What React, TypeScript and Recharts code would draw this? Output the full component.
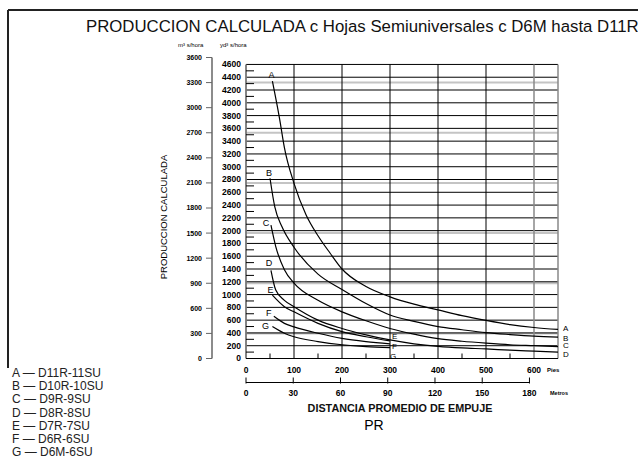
import { LineChart, Line, XAxis, YAxis } from "recharts";

// tick values
const FEET_TICKS = [0, 50, 100, 150, 200, 250, 300, 350, 400, 450, 500, 550, 600];
const METRO_TICKS = [0, 30, 60, 90, 120, 150, 180];
const YD_TICKS = [
  0, 100, 200, 300, 400, 500, 600, 700, 800, 900, 1000, 1100, 1200, 1300, 1400, 1500,
  1600, 1700, 1800, 1900, 2000, 2100, 2200, 2300, 2400, 2500, 2600, 2700, 2800, 2900,
  3000, 3100, 3200, 3300, 3400, 3500, 3600, 3700, 3800, 3900, 4000, 4100, 4200, 4300,
  4400, 4500, 4600,
];
const YD_GRID = [
  200, 400, 600, 800, 1000, 1200, 1400, 1600, 1800, 2000, 2200, 2400, 2600, 2800, 3000,
  3200, 3400, 3600, 3800, 4000, 4200, 4400, 4600,
];
const M3_TICKS = [0, 300, 600, 900, 1200, 1500, 1800, 2100, 2400, 2700, 3000, 3300, 3600];
const M3_GRAY = [300, 900, 1500, 2100, 2700, 3300];
const FT_GRID = [100, 200, 300, 400, 500];
const FT_GRAY = [600, 650];

// production curves (x = pies, y = yd3/hora)
const curveA = [
  { x: 55, y: 4340 }, { x: 70, y: 3750 }, { x: 80, y: 3300 }, { x: 100, y: 2740 },
  { x: 125, y: 2250 }, { x: 150, y: 1920 }, { x: 175, y: 1650 }, { x: 200, y: 1400 },
  { x: 250, y: 1125 }, { x: 300, y: 965 }, { x: 350, y: 850 }, { x: 400, y: 760 },
  { x: 450, y: 670 }, { x: 500, y: 595 }, { x: 550, y: 530 }, { x: 600, y: 485 },
  { x: 650, y: 455 },
];
const curveB = [
  { x: 50, y: 2820 }, { x: 60, y: 2370 }, { x: 75, y: 2060 }, { x: 100, y: 1740 },
  { x: 150, y: 1320 }, { x: 200, y: 1080 }, { x: 250, y: 860 }, { x: 300, y: 680 },
  { x: 350, y: 580 }, { x: 400, y: 500 }, { x: 450, y: 450 }, { x: 500, y: 405 },
  { x: 550, y: 375 }, { x: 600, y: 350 }, { x: 650, y: 335 },
];
const curveC = [
  { x: 52, y: 2085 }, { x: 62, y: 1750 }, { x: 80, y: 1390 }, { x: 100, y: 1180 },
  { x: 150, y: 910 }, { x: 200, y: 730 }, { x: 250, y: 590 }, { x: 300, y: 470 },
  { x: 350, y: 380 }, { x: 400, y: 310 }, { x: 450, y: 270 }, { x: 500, y: 240 },
  { x: 550, y: 215 }, { x: 600, y: 200 }, { x: 650, y: 185 },
];
const curveD = [
  { x: 52, y: 1380 }, { x: 62, y: 1070 }, { x: 80, y: 910 }, { x: 100, y: 810 },
  { x: 150, y: 600 }, { x: 200, y: 470 }, { x: 250, y: 370 }, { x: 300, y: 290 },
  { x: 350, y: 230 }, { x: 400, y: 190 }, { x: 450, y: 165 }, { x: 500, y: 150 },
  { x: 550, y: 130 }, { x: 600, y: 115 }, { x: 650, y: 100 },
];
const curveE = [
  { x: 55, y: 990 }, { x: 80, y: 810 }, { x: 100, y: 730 }, { x: 150, y: 550 },
  { x: 200, y: 420 }, { x: 250, y: 340 }, { x: 300, y: 275 },
];
const curveF = [
  { x: 58, y: 660 }, { x: 80, y: 550 }, { x: 100, y: 495 }, { x: 150, y: 395 },
  { x: 200, y: 315 }, { x: 250, y: 265 }, { x: 300, y: 230 },
];
const curveG = [
  { x: 55, y: 500 }, { x: 80, y: 395 }, { x: 100, y: 340 }, { x: 150, y: 265 },
  { x: 200, y: 215 }, { x: 250, y: 185 }, { x: 300, y: 170 },
];

const LEGEND = [
  "A — D11R-11SU",
  "B — D10R-10SU",
  "C — D9R-9SU",
  "D — D8R-8SU",
  "E — D7R-7SU",
  "F — D6R-6SU",
  "G — D6M-6SU",
];

const series = [
  { key: "A", data: curveA, sdx: -1, sdy: -6, edx: 5, edy: -1 },
  { key: "B", data: curveB, sdx: -1, sdy: -5, edx: 5, edy: 1 },
  { key: "C", data: curveC, sdx: -5, sdy: -2, edx: 5, edy: -1 },
  { key: "D", data: curveD, sdx: -2, sdy: -7, edx: 5, edy: 2 },
  { key: "E", data: curveE, sdx: -2, sdy: -5, edx: 2, edy: -5 },
  { key: "F", data: curveF, sdx: -5, sdy: -3, edx: 2, edy: 2 },
  { key: "G", data: curveG, sdx: -7, sdy: -1, edx: 0, edy: 9 },
];

// grid built from the tick arrays
const hGrid = YD_GRID.map((v) => [{ x: 0, y: v }, { x: 650, y: v }]);
const vGrid = FT_GRID.map((v) => [{ x: v, y: 0 }, { x: v, y: 4600 }]);
const vGray = FT_GRAY.map((v) => [{ x: v, y: 0 }, { x: v, y: 4600 }]);
const m3Gray = M3_GRAY.map((v) => [{ x: 0, y: v }, { x: 650, y: v }]);
const leftEdge = [{ x: 0, y: 0 }, { x: 0, y: 4600 }];
const metroSpan = [{ x: 0, y: 0 }, { x: 180, y: 0 }];

const W = 638;
const H = 460;
const MARGIN = { top: 57.5, right: 80, bottom: 47.5, left: 172 };
const PLOT_W = W - MARGIN.right - 246;
const FT_MAX = 650;
const M_MAX = FT_MAX * 0.3048;
const YD_MAX = 3600 * 1.30795;
const FONT = "'Liberation Sans', Arial, sans-serif";

// axis ids: "a" sits next to the plot, "b" outside it
const YD = "a";
const M3 = "b";

const FtTick = (p: any) => {
  const v = p.payload.value;
  if (v % 100 !== 0) {
    return <line x1={p.x} x2={p.x} y1={p.y - 5} y2={p.y} stroke="#000" strokeWidth={1} />;
  }
  return (
    <text x={p.x} y={p.y + 14} textAnchor="middle" fontSize={8.5} fontWeight="bold" fontFamily={FONT} fill="#000">
      {v}
    </text>
  );
};

const MetroTick = (p: any) => {
  const step = (30 / M_MAX) * PLOT_W;
  return (
    <g>
      {p.index > 0 && <line x1={p.x - step} x2={p.x} y1={p.y} y2={p.y} stroke="#000" strokeWidth={1} />}
      <line x1={p.x} x2={p.x} y1={p.y - 5} y2={p.y + 1} stroke="#000" strokeWidth={1} />
      <text x={p.x} y={p.y + 13} textAnchor="middle" fontSize={8.5} fontWeight="bold" fontFamily={FONT} fill="#000">
        {p.payload.value}
      </text>
    </g>
  );
};

const YdTick = (p: any) => {
  const v = p.payload.value;
  if (v % 200 !== 0) {
    return <line x1={p.x + 5} x2={p.x + 13} y1={p.y} y2={p.y} stroke="#000" strokeWidth={1} />;
  }
  return (
    <text x={p.x} y={p.y} dy="0.35em" textAnchor="end" fontSize={8.5} fontWeight="bold" fontFamily={FONT} fill="#000">
      {v}
    </text>
  );
};

const M3Tick = (p: any) => (
  <text x={p.x} y={p.y} dy="0.35em" textAnchor="end" fontSize={7} fontWeight="bold" fontFamily={FONT} fill="#000">
    {p.payload.value}
  </text>
);

const makeLabel = (s: any) => (p: any) => {
  const last = s.data.length - 1;
  if (p.index !== 0 && p.index !== last) return <g key={p.index} />;
  const start = p.index === 0;
  return (
    <text
      key={p.index}
      x={p.x + (start ? s.sdx : s.edx)}
      y={p.y + (start ? s.sdy : s.edy)}
      dy="0.35em"
      textAnchor={start ? "middle" : "start"}
      fontSize={start ? 9 : 8}
      fontFamily={FONT}
      fill="#000"
    >
      {s.key}
    </text>
  );
};

const gridLine = (key: string, data: any[], stroke: string, width: number, yAxisId = YD, xAxisId = "ft") => (
  <Line
    key={key}
    xAxisId={xAxisId}
    yAxisId={yAxisId}
    data={data}
    dataKey="y"
    type="linear"
    stroke={stroke}
    strokeWidth={width}
    dot={false}
    activeDot={false}
    isAnimationActive={false}
  />
);

export default function App() {
  return (
    <div style={{ position: "absolute", left: 0, top: 0, width: W, height: H, background: "#fff", overflow: "hidden" }}>
      <LineChart width={W} height={H} margin={MARGIN}>
        <XAxis
          xAxisId="ft"
          type="number"
          dataKey="x"
          domain={[0, FT_MAX]}
          ticks={FEET_TICKS}
          interval={0}
          height={24}
          tickSize={0}
          tickMargin={0}
          axisLine={{ stroke: "#000", strokeWidth: 1.2 }}
          tick={FtTick}
        />
        <XAxis
          xAxisId="m"
          type="number"
          dataKey="x"
          domain={[0, M_MAX]}
          ticks={METRO_TICKS}
          interval={0}
          height={30}
          tickSize={0}
          tickMargin={0}
          axisLine={false}
          tick={MetroTick}
        />
        <YAxis
          yAxisId={YD}
          type="number"
          domain={[0, YD_MAX]}
          ticks={YD_TICKS}
          interval={0}
          width={34}
          tickSize={0}
          tickMargin={5}
          axisLine={false}
          tick={YdTick}
        />
        <YAxis
          yAxisId={M3}
          type="number"
          domain={[0, 3600]}
          ticks={M3_TICKS}
          interval={0}
          width={40}
          tickSize={6}
          tickMargin={4}
          axisLine={{ stroke: "#666", strokeWidth: 1.5 }}
          tickLine={{ stroke: "#666", strokeWidth: 1 }}
          tick={M3Tick}
        />
        {m3Gray.map((d, i) => gridLine("g" + i, d, "#c4c4c4", 2, M3))}
        {hGrid.map((d, i) => gridLine("h" + i, d, "#000", 1))}
        {vGrid.map((d, i) => gridLine("v" + i, d, "#000", 1))}
        {vGray.map((d, i) => gridLine("vg" + i, d, "#888", 1.5))}
        {gridLine("left", leftEdge, "#777", 1.8)}
        {gridLine("metro", metroSpan, "none", 0, YD, "m")}
        {series.map((s) => (
          <Line
            key={s.key}
            xAxisId="ft"
            yAxisId={YD}
            data={s.data}
            dataKey="y"
            type="monotone"
            stroke="#000"
            strokeWidth={1.2}
            dot={false}
            isAnimationActive={false}
            label={makeLabel(s)}
          />
        ))}
      </LineChart>
      <svg width={W} height={H} style={{ position: "absolute", left: 0, top: 0, pointerEvents: "none" }} fontFamily={FONT}>
        <line x1={8} x2={W} y1={10} y2={10} stroke="#222" strokeWidth={2} />
        <line x1={8} x2={8} y1={10} y2={368} stroke="#222" strokeWidth={2} />
        <text x={86} y={32} fontSize={16.8} fill="#111">
          PRODUCCION CALCULADA c Hojas Semiuniversales c D6M hasta D11R
        </text>
        <text x={178} y={47} fontSize={6} fill="#000">m³ s/hora</text>
        <text x={220} y={47} fontSize={6} fill="#000">yd³ s/hora</text>
        <text
          x={167}
          y={217}
          fontSize={9.5}
          fill="#000"
          textAnchor="middle"
          transform="rotate(-90 167 217)"
        >
          PRODUCCION CALCULADA
        </text>
        <text x={547} y={372} fontSize={6} fontWeight="bold" fill="#000">Pies</text>
        <text x={550} y={395} fontSize={5.5} fontWeight="bold" fill="#000">Metros</text>
        <text x={400} y={412} fontSize={10.8} fontWeight={600} textAnchor="middle" fill="#111">
          DISTANCIA PROMEDIO DE EMPUJE
        </text>
        <text x={374} y={430} fontSize={14} textAnchor="middle" fill="#000">PR</text>
        {LEGEND.map((t, i) => (
          <text key={t} x={12} y={377 + i * 13.2} fontSize={12} fill="#222">
            {t}
          </text>
        ))}
      </svg>
    </div>
  );
}
